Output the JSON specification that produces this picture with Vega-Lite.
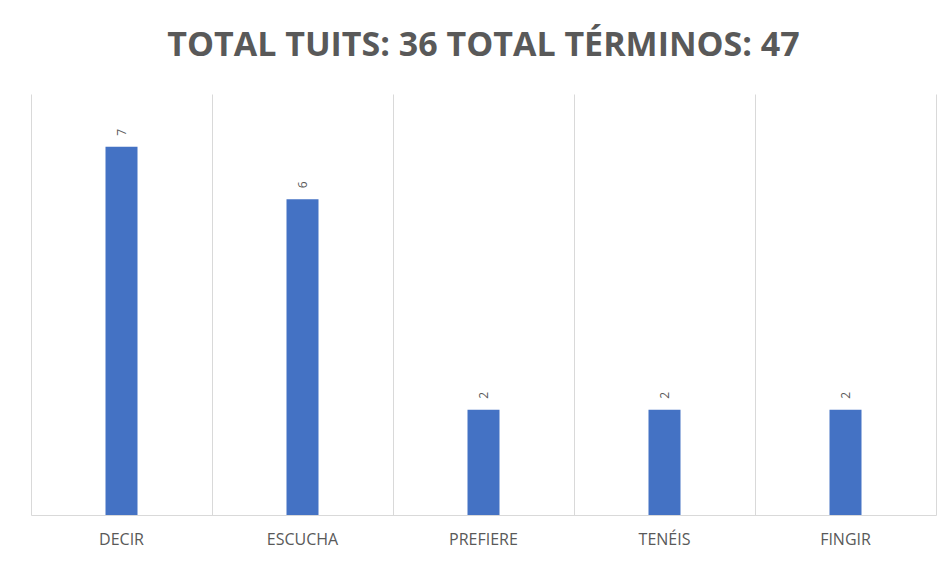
{
  "$schema": "https://vega.github.io/schema/vega-lite/v6.json",
  "width": 905,
  "height": 421,
  "autosize": {"type": "none"},
  "padding": {"left": 31, "top": 94, "right": 11, "bottom": 46},
  "background": "white",
  "title": {
    "text": "TOTAL  TUITS: 36 TOTAL  TÉRMINOS: 47",
    "font": "Open Sans",
    "fontSize": 34,
    "fontWeight": "bold",
    "color": "#595959",
    "anchor": "middle",
    "baseline": "alphabetic",
    "offset": 4
  },
  "data": {
    "values": [
      {"termino": "DECIR", "n": 7},
      {"termino": "ESCUCHA", "n": 6},
      {"termino": "PREFIERE", "n": 2},
      {"termino": "TENÉIS", "n": 2},
      {"termino": "FINGIR", "n": 2}
    ]
  },
  "encoding": {
    "x": {
      "field": "termino",
      "type": "nominal",
      "sort": null,
      "scale": {"paddingInner": 0, "paddingOuter": 0},
      "axis": {
        "title": null,
        "labelAngle": 0,
        "labelFont": "Open Sans",
        "labelFontSize": 16,
        "labelColor": "#595959",
        "labelPadding": 16,
        "ticks": false,
        "domainColor": "#d9d9d9",
        "grid": true,
        "gridColor": "#d9d9d9",
        "bandPosition": 0
      }
    },
    "y": {
      "field": "n",
      "type": "quantitative",
      "scale": {"domain": [0, 8]},
      "axis": {
        "orient": "right",
        "title": null,
        "labels": false,
        "ticks": false,
        "grid": false,
        "domainColor": "#d9d9d9"
      }
    }
  },
  "layer": [
    {
      "mark": {"type": "bar", "color": "#4472C4", "width": 32}
    },
    {
      "mark": {
        "type": "text",
        "angle": 270,
        "align": "left",
        "baseline": "middle",
        "dx": 11,
        "font": "Open Sans",
        "fontSize": 12,
        "color": "#595959"
      },
      "encoding": {"text": {"field": "n", "type": "quantitative"}}
    }
  ],
  "config": {
    "view": {"stroke": null}
  }
}
